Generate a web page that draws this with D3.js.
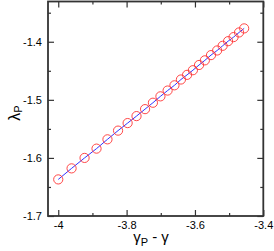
<html>
<head>
	<meta charset="utf-8">
	<title>lambda vs gamma</title>
	<style>
		body { margin: 0; background: white; }
		text { font-family: "Liberation Sans", Arial, sans-serif; }
	</style>
</head>
<body>
	<div id="chart"></div>
	<script src="https://cdn.jsdelivr.net/npm/d3@7"></script>
	<script>
		// data
		var gammaDiff = [-4.000, -3.961, -3.923, -3.888, -3.856, -3.825, -3.797, -3.771, -3.746,
			-3.723, -3.701, -3.680, -3.660, -3.641, -3.623, -3.606, -3.588, -3.571, -3.553,
			-3.535, -3.519, -3.503, -3.487, -3.471, -3.456];
		var lambdaP = [-1.637, -1.618, -1.600, -1.584, -1.568, -1.553, -1.540, -1.528, -1.516,
			-1.505, -1.494, -1.484, -1.475, -1.465, -1.457, -1.449, -1.440, -1.432, -1.423,
			-1.415, -1.407, -1.399, -1.392, -1.384, -1.377];
		var xMajor = [-4, -3.8, -3.6, -3.4];
		var xMinor = [-3.9, -3.7, -3.5];
		var yMajor = [-1.7, -1.6, -1.5, -1.4];
		var yMinor = [-1.65, -1.55, -1.45, -1.35];

		var width = 274, height = 251;
		var plotLeft = 48, plotRight = 263.3, plotTop = 1.5, plotBottom = 216;
		var frameColor = "#333";

		var svg = d3.select("#chart").append("svg")
			.attr("width", width).attr("height", height);

		var x = d3.scaleLinear().domain([-4.03, -3.4]).range([plotLeft, plotRight]);
		var y = d3.scaleLinear().domain([-1.7, -1.3307]).range([plotBottom, plotTop]);

		// plain hyphen minus, like the original
		var fmt = function(d) { return String(d); };

		function styleAxis(g) {
			g.select(".domain").remove();
			g.selectAll("line").attr("stroke", frameColor).attr("stroke-width", 1.2);
			g.selectAll("text").attr("font-size", 11).attr("fill", "#000");
		}

		// ticks point inwards, on all four sides
		svg.append("g").attr("transform", "translate(0," + plotBottom + ")")
			.call(d3.axisBottom(x).tickValues(xMajor).tickSizeInner(-6).tickPadding(5).tickFormat(fmt))
			.call(styleAxis);
		svg.append("g").attr("transform", "translate(0," + plotBottom + ")")
			.call(d3.axisBottom(x).tickValues(xMinor).tickSizeInner(-3).tickFormat(""))
			.call(styleAxis);
		svg.append("g").attr("transform", "translate(0," + plotTop + ")")
			.call(d3.axisTop(x).tickValues(xMajor).tickSizeInner(-6).tickFormat(""))
			.call(styleAxis);
		svg.append("g").attr("transform", "translate(0," + plotTop + ")")
			.call(d3.axisTop(x).tickValues(xMinor).tickSizeInner(-3).tickFormat(""))
			.call(styleAxis);

		svg.append("g").attr("transform", "translate(" + plotLeft + ",0)")
			.call(d3.axisLeft(y).tickValues(yMajor).tickSizeInner(-6).tickPadding(6).tickFormat(fmt))
			.call(styleAxis);
		svg.append("g").attr("transform", "translate(" + plotLeft + ",0)")
			.call(d3.axisLeft(y).tickValues(yMinor).tickSizeInner(-3).tickFormat(""))
			.call(styleAxis);
		svg.append("g").attr("transform", "translate(" + plotRight + ",0)")
			.call(d3.axisRight(y).tickValues(yMajor).tickSizeInner(-6).tickFormat(""))
			.call(styleAxis);
		svg.append("g").attr("transform", "translate(" + plotRight + ",0)")
			.call(d3.axisRight(y).tickValues(yMinor).tickSizeInner(-3).tickFormat(""))
			.call(styleAxis);

		// frame
		svg.append("rect")
			.attr("x", plotLeft).attr("y", plotTop)
			.attr("width", plotRight - plotLeft).attr("height", plotBottom - plotTop)
			.attr("fill", "none").attr("stroke", frameColor).attr("stroke-width", 1.8);

		var pts = gammaDiff.map(function(d, i) { return [d, lambdaP[i]]; });

		svg.append("path")
			.datum(pts)
			.attr("fill", "none")
			.attr("stroke", "#3333ff")
			.attr("stroke-width", 1)
			.attr("d", d3.line().x(function(d) { return x(d[0]); }).y(function(d) { return y(d[1]); }));

		svg.selectAll("circle.pt")
			.data(pts)
			.enter().append("circle")
			.attr("class", "pt")
			.attr("cx", function(d) { return x(d[0]); })
			.attr("cy", function(d) { return y(d[1]); })
			.attr("r", 4.6)
			.attr("fill", "none")
			.attr("stroke", "#ff3333")
			.attr("stroke-width", 0.9);

		// axis titles
		var xt = svg.append("text")
			.attr("x", 151).attr("y", 242)
			.attr("text-anchor", "middle")
			.attr("font-size", 15);
		xt.append("tspan").text("\u03b3");
		xt.append("tspan").attr("font-size", 11).attr("dy", 4).text("P");
		xt.append("tspan").attr("dy", -4).text(" - \u03b3");

		var yt = svg.append("text")
			.attr("transform", "translate(20,113) rotate(-90)")
			.attr("text-anchor", "middle")
			.attr("font-size", 16);
		yt.append("tspan").text("\u03bb");
		yt.append("tspan").attr("font-size", 11).attr("dy", 2).text("P");
	</script>
</body>
</html>
